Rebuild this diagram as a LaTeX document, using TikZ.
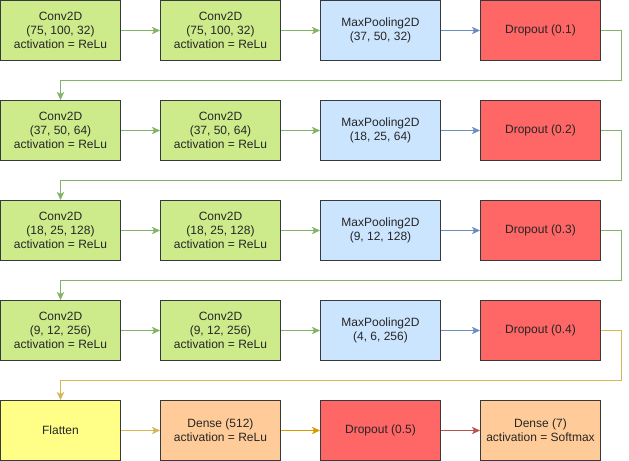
\documentclass[tikz,border=0pt]{standalone}
\usepackage{fontspec}
\setmainfont{Liberation Sans}
\usetikzlibrary{arrows.meta}
\definecolor{convfill}{HTML}{CDEB8B}
\definecolor{poolfill}{HTML}{CCE5FF}
\definecolor{dropfill}{HTML}{FF6666}
\definecolor{flatfill}{HTML}{FFFF88}
\definecolor{densefill}{HTML}{FFCC99}
\definecolor{boxline}{HTML}{36393D}
\definecolor{greenline}{HTML}{82B366}
\definecolor{blueline}{HTML}{6C8EBF}
\definecolor{goldline}{HTML}{D6B656}
\definecolor{orangeline}{HTML}{D79B00}
\definecolor{redline}{HTML}{B85450}
\begin{document}
\begin{tikzpicture}[x=0.75pt,y=-0.75pt,
  layer/.style={draw=boxline,line width=0.75pt,minimum width=90pt,minimum height=45pt,
    inner sep=0pt,align=center,font=\fontsize{9}{10.5}\selectfont,text=black!85},
  conv/.style={layer,fill=convfill},
  pool/.style={layer,fill=poolfill},
  drop/.style={layer,fill=dropfill},
  flat/.style={layer,fill=flatfill},
  dense/.style={layer,fill=densefill},
  link/.style={line width=0.75pt,-{Stealth[length=6pt,width=5.5pt,inset=1.5pt]}}]
\useasboundingbox (0,0) rectangle (629,461);
% row 1
\node[conv] (c11) at (60.5,30.5) {Conv2D\\(75, 100, 32)\\activation = ReLu};
\node[conv] (c12) at (220.5,30.5) {Conv2D\\(75, 100, 32)\\activation = ReLu};
\node[pool] (p1) at (380.5,30.5) {MaxPooling2D\\(37, 50, 32)};
\node[drop] (d1) at (540.5,30.5) {Dropout (0.1)};
% row 2
\node[conv] (c21) at (60.5,130.5) {Conv2D\\(37, 50, 64)\\activation = ReLu};
\node[conv] (c22) at (220.5,130.5) {Conv2D\\(37, 50, 64)\\activation = ReLu};
\node[pool] (p2) at (380.5,130.5) {MaxPooling2D\\(18, 25, 64)};
\node[drop] (d2) at (540.5,130.5) {Dropout (0.2)};
% row 3
\node[conv] (c31) at (60.5,230.5) {Conv2D\\(18, 25, 128)\\activation = ReLu};
\node[conv] (c32) at (220.5,230.5) {Conv2D\\(18, 25, 128)\\activation = ReLu};
\node[pool] (p3) at (380.5,230.5) {MaxPooling2D\\(9, 12, 128)};
\node[drop] (d3) at (540.5,230.5) {Dropout (0.3)};
% row 4
\node[conv] (c41) at (60.5,330.5) {Conv2D\\(9, 12, 256)\\activation = ReLu};
\node[conv] (c42) at (220.5,330.5) {Conv2D\\(9, 12, 256)\\activation = ReLu};
\node[pool] (p4) at (380.5,330.5) {MaxPooling2D\\(4, 6, 256)};
\node[drop] (d4) at (540.5,330.5) {Dropout (0.4)};
% row 5
\node[flat] (fl) at (60.5,430.5) {Flatten};
\node[dense] (de1) at (220.5,430.5) {Dense (512)\\activation = ReLu};
\node[drop] (d5) at (380.5,430.5) {Dropout (0.5)};
\node[dense] (de2) at (540.5,430.5) {Dense (7)\\activation = Softmax};
% connectors within rows
\foreach \r in {1,2,3,4}{
  \draw[link,greenline] (c\r1) -- (c\r2);
  \draw[link,greenline] (c\r2) -- (p\r);
  \draw[link,blueline] (p\r) -- (d\r);
}
% row-wrapping connectors
\draw[link,greenline] (d1.east) -- ++(20,0) |- (60.5,80.5) -- (c21.north);
\draw[link,greenline] (d2.east) -- ++(20,0) |- (60.5,180.5) -- (c31.north);
\draw[link,greenline] (d3.east) -- ++(20,0) |- (60.5,280.5) -- (c41.north);
\draw[link,goldline] (d4.east) -- ++(20,0) |- (60.5,380.5) -- (fl.north);
% last row
\draw[link,goldline] (fl) -- (de1);
\draw[link,orangeline] (de1) -- (d5);
\draw[link,redline] (d5) -- (de2);
\end{tikzpicture}
\end{document}
